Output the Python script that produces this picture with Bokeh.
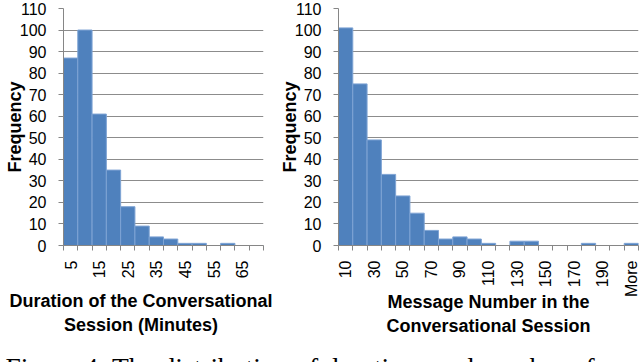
import math
from bokeh.plotting import figure
from bokeh.models import Range1d, FixedTicker
from bokeh.core.properties import value
from bokeh.layouts import column, row
from bokeh.embed import file_html
from bokeh.resources import INLINE

# ---- data ----
dur_bins = ["5", "10", "15", "20", "25", "30", "35", "40", "45", "50", "55", "60", "65", "70"]
dur_freq = [87, 100, 61, 35, 18, 9, 4, 3, 1, 1, 0, 1, 0, 0]

msg_bins = ["10", "20", "30", "40", "50", "60", "70", "80", "90", "100", "110",
            "120", "130", "140", "150", "160", "170", "180", "190", "200", "More"]
msg_freq = [101, 75, 49, 33, 23, 15, 7, 3, 4, 3, 1, 0, 2, 2, 0, 0, 0, 1, 0, 0, 1]

y_ticks = list(range(0, 111, 10))
freq_title = "Frequency"
dur_title = ["Duration of the Conversational", "Session (Minutes)"]
msg_title = ["Message Number in the", "Conversational Session"]
caption = "Figure 4: The distribution of durations and number of messages"

BAR = "#4F81BD"
EDGE = "#7EA3D4"
GRID = "#8C8C8C"
AX = "#868686"
SANS = "Liberation Sans"
YMAX = 110


def make_hist(cats, freqs, frame_w, left, right, xlabel, xlabel_standoff, ylabel_standoff):
    n = len(cats)
    idx = list(range(n))
    p = figure(frame_width=frame_w, frame_height=237,
               x_range=Range1d(-0.5, n - 0.5), y_range=Range1d(0, YMAX),
               output_backend="svg", toolbar_location=None,
               min_border_left=left, min_border_right=right,
               min_border_top=8, min_border_bottom=97)
    p.vbar(x=idx, top=freqs, width=1, fill_color=BAR, line_color=EDGE, line_width=1)

    xa = p.xaxis[0]
    xa.ticker = FixedTicker(ticks=idx[::2], minor_ticks=[i - 0.5 for i in range(n + 1)])
    xa.major_label_overrides = {i: cats[i] for i in idx[::2]}
    xa.major_tick_out = 0
    xa.major_tick_in = 0
    xa.minor_tick_out = 5
    xa.minor_tick_in = 0
    xa.minor_tick_line_color = AX
    xa.axis_line_color = AX
    xa.major_label_orientation = math.pi / 2
    xa.major_label_text_font = SANS
    xa.major_label_text_font_size = "16px"
    xa.major_label_text_color = "black"
    xa.major_label_standoff = 10
    xa.axis_label = xlabel
    xa.axis_label_text_font = SANS
    xa.axis_label_text_font_style = "bold"
    xa.axis_label_text_font_size = "18px"
    xa.axis_label_text_color = "black"
    xa.axis_label_standoff = xlabel_standoff

    ya = p.yaxis[0]
    ya.ticker = FixedTicker(ticks=y_ticks, minor_ticks=[])
    ya.major_tick_out = 5
    ya.major_tick_in = 0
    ya.major_tick_line_color = AX
    ya.axis_line_color = AX
    ya.major_label_text_font = SANS
    ya.major_label_text_font_size = "16px"
    ya.major_label_text_color = "black"
    ya.major_label_standoff = 12
    ya.axis_label = freq_title
    ya.axis_label_text_font = SANS
    ya.axis_label_text_font_style = "bold"
    ya.axis_label_text_font_size = "18px"
    ya.axis_label_text_color = "black"
    ya.axis_label_standoff = ylabel_standoff

    p.xgrid.visible = False
    p.ygrid.grid_line_color = GRID
    p.ygrid.grid_line_width = 1
    p.outline_line_color = None
    return p


# the left title sits left of its frame's centre: pad lines on the right
pad = " " * 9
left_label = "\n".join(t + pad for t in dur_title)
right_label = "\n".join(msg_title)

# left chart: 63 + 200 + 12 = 275 wide; right chart: 63 + 300 + 2 = 365 wide
p1 = make_hist(dur_bins, dur_freq, 200, 63, 12, left_label, 10, -8)
p2 = make_hist(msg_bins, msg_freq, 300, 63, 2, right_label, -8, -8)

CW, CH = 640, 20
cap = figure(width=CW, height=CH, x_range=Range1d(0, CW), y_range=Range1d(CH, 0),
             output_backend="svg", toolbar_location=None,
             x_axis_location=None, y_axis_location=None,
             min_border_left=0, min_border_right=0, min_border_top=0, min_border_bottom=0)
cap.grid.visible = False
cap.outline_line_color = None
cap.text(x=[5], y=[9], text=[caption],
         text_font=value("Liberation Serif"), text_font_size=value("27.5px"),
         text_color="black", text_align="left", text_baseline="top")

layout = column(row(p1, p2, spacing=0), cap, spacing=0)

open("out.html", "w").write(file_html(layout, INLINE))
